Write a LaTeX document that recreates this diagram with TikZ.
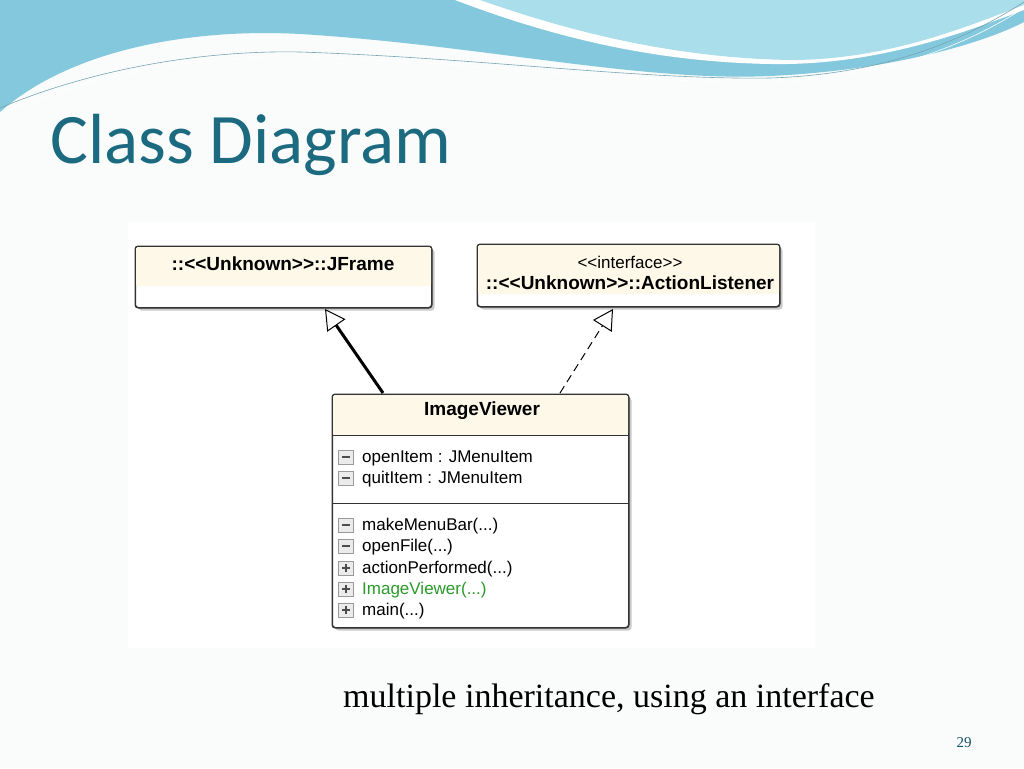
\documentclass[tikz,border=0pt]{standalone}
\usepackage{fontspec}
\setmainfont{Liberation Serif}
\newfontfamily\titlefont{Carlito}
\newfontfamily\umlfont{Liberation Sans}
\usetikzlibrary{arrows.meta,calc,shadows}
\definecolor{bg}{HTML}{FAFCFC}
\definecolor{wave}{HTML}{84C8DE}
\definecolor{wavelight}{HTML}{A9DEEA}
\definecolor{titlecol}{HTML}{1B6A80}
\definecolor{cream}{HTML}{FDF8E8}
\definecolor{icon}{HTML}{9A9A9A}
\definecolor{ctorgreen}{HTML}{2A9A2A}
\tikzset{
  umlbox/.style={draw=black!80,line width=1pt,rounded corners=3pt,fill=white,
     drop shadow={shadow xshift=3pt,shadow yshift=-3pt,fill=black!35,opacity=0.6}},
  member/.style={anchor=west,inner sep=0pt,font=\umlfont\fontsize{17}{18}\selectfont},
  boldlabel/.style={inner sep=0pt,font=\umlfont\bfseries\fontsize{19}{20}\selectfont},
  inherit/.style={-{Triangle[open,length=20pt,width=22pt,fill=white,line width=1pt]},line width=1pt},
}
\newcommand\minusicon[1]{\draw[icon,fill=black!8,line width=0.8pt] ($(#1)+(-7.5,-7)$) rectangle ++(15,14); \draw[black!70,line width=1.3pt] ($(#1)+(-4,0)$)--++(8,0);}
\newcommand\plusicon[1]{\draw[icon,fill=black!8,line width=0.8pt] ($(#1)+(-7.5,-7)$) rectangle ++(15,14); \draw[black!70,line width=1.3pt] ($(#1)+(-4,0)$)--++(8,0) ($(#1)+(0,-4)$)--++(0,8);}
\begin{document}
\begin{tikzpicture}[x=1pt,y=-1pt]
\useasboundingbox (0,0) rectangle (1024,768);
\fill[bg] (0,0) rectangle (1024,768);
% header waves
\fill[wave] (0,0)--(0,112) .. controls (70,50) and (190,28) .. (300,34) .. controls (480,45) and (640,82) .. (770,76) .. controls (900,70) and (990,40) .. (1024,22)--(1024,0)--cycle;
\fill[white] (455,0) .. controls (560,40) and (660,62) .. (770,64) .. controls (880,66) and (970,30) .. (1024,10)--(1024,0)--cycle;
\fill[wavelight] (480,0) .. controls (580,35) and (680,58) .. (790,60) .. controls (890,60) and (970,25) .. (1024,5)--(1024,0)--cycle;
\draw[titlecol!60,line width=0.6pt] (0,108) .. controls (90,70) and (200,50) .. (300,52) .. controls (480,58) and (640,80) .. (770,78) .. controls (900,74) and (980,30) .. (1024,2);
\draw[white,line width=0.6pt] (0,114) .. controls (90,74) and (200,55) .. (300,57) .. controls (480,62) and (640,84) .. (770,82) .. controls (900,78) and (980,36) .. (1024,8);
% title
\node[anchor=base west,inner sep=0pt,text=titlecol,font=\titlefont\fontsize{71}{73}\selectfont] (title) at (50,163) {Class Diagram};
% panel
\fill[white] (128,222) rectangle (815,648);
% JFrame
\node[umlbox,minimum width=296pt,minimum height=61pt,anchor=north west,inner sep=0pt] (jf) at (135,246) {};
\fill[cream,rounded corners=2pt] ($(jf.north west)+(1,1)$) rectangle ($(jf.north east)+(-1,40)$);
\draw[black!80,line width=1pt,rounded corners=3pt] (jf.north west) rectangle (jf.south east);
\node[boldlabel] (jft) at (283,264) {::<<Unknown>>::JFrame};
% ActionListener
\node[umlbox,minimum width=302pt,minimum height=62pt,anchor=north west,inner sep=0pt] (al) at (477,244) {};
\fill[cream,rounded corners=2pt] ($(al.north west)+(1,1)$) rectangle ($(al.north east)+(-1,50)$);
\draw[black!80,line width=1pt,rounded corners=3pt] (al.north west) rectangle (al.south east);
\node[inner sep=0pt,font=\umlfont\fontsize{17}{18}\selectfont] (alst) at (630,262) {<<interface>>};
\node[boldlabel] (alt) at (630,283) {::<<Unknown>>::ActionListener};
% ImageViewer
\node[umlbox,minimum width=296pt,minimum height=233pt,anchor=north west,inner sep=0pt] (iv) at (332,394) {};
\fill[cream,rounded corners=2pt] ($(iv.north west)+(1,1)$) rectangle ($(iv.north east)+(-1,41)$);
\draw[black!80,line width=1pt,rounded corners=3pt] (iv.north west) rectangle (iv.south east);
\draw[black!80,line width=1pt] (332,435)--(628,435) (332,503)--(628,503);
\node[boldlabel] (ivt) at (482,411) {ImageViewer};
\node[member] (m1) at (362,458) {openItem : JMenuItem}; \minusicon{346,457}
\node[member] (m2) at (362,479) {quitItem : JMenuItem}; \minusicon{346,478}
\node[member] (m3) at (362,526) {makeMenuBar(...)}; \minusicon{346,525}
\node[member] (m4) at (362,547) {openFile(...)}; \minusicon{346,546}
\node[member] (m5) at (362,569) {actionPerformed(...)}; \plusicon{346,568}
\node[member,text=ctorgreen] (m6) at (362,590) {ImageViewer(...)}; \plusicon{346,589}
\node[member] (m7) at (362,611) {main(...)}; \plusicon{346,610}
% connectors
\coordinate (ivA) at (383,393);
\coordinate (jfB) at (325,309);
\coordinate (ivC) at (560,393);
\coordinate (alB) at (613,309);
\draw[inherit,line width=3pt] (ivA) -- (jfB);
\draw[inherit,dash pattern=on 8pt off 5pt] (ivC) -- (alB);
% caption
\node[anchor=base west,inner sep=0pt,font=\fontsize{34}{36}\selectfont] (cap) at (343,707) {multiple inheritance, using an interface};
\node[anchor=base,inner sep=0pt,text=titlecol!80!black,font=\fontsize{15}{16}\selectfont] (pg) at (964,747) {29};
\end{tikzpicture}
\end{document}
